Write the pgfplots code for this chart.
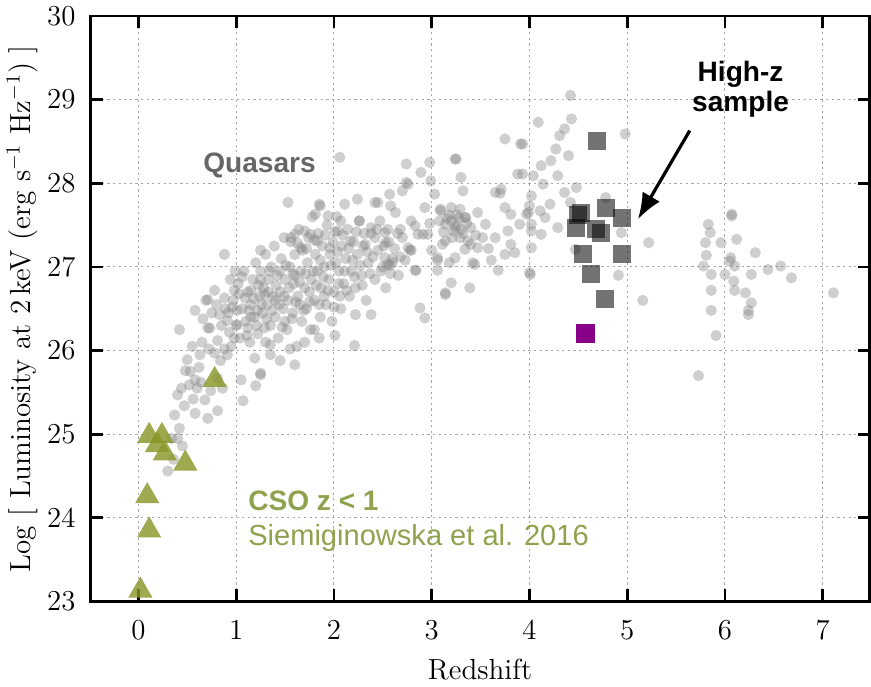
\documentclass[border=0pt]{standalone}
\usepackage{pgfplots}
\pgfplotsset{compat=1.18}
\usepackage{pgfplotstable}
\usepackage{fontspec}
\newfontfamily\annfont{Liberation Sans}
\usetikzlibrary{arrows.meta}
\definecolor{olivetri}{RGB}{138,150,40}
\definecolor{olivetxt}{RGB}{143,162,78}
\definecolor{qgray}{RGB}{102,102,102}
\definecolor{hzpurple}{RGB}{135,0,135}

\pgfplotstableread{
z L
0.42 26.25
0.58 26.48
0.73 26.27
0.78 26.72
0.69 26.60
0.50 25.89
0.48 25.76
0.52 25.59
0.40 25.47
0.68 25.41
0.37 25.23
0.47 25.34
0.58 25.25
0.81 25.28
0.71 25.19
0.42 25.07
0.40 24.95
0.45 24.86
0.30 24.56
0.36 24.70
1.07 25.40
1.05 25.65
1.20 25.58
1.25 25.73
1.19 25.91
0.84 25.88
0.91 25.95
0.78 25.97
0.81 25.67
0.58 25.65
0.86 25.55
0.74 25.52
0.81 26.12
0.98 26.15
0.91 26.36
1.01 26.48
1.09 26.63
1.22 26.48
1.29 26.27
1.35 26.07
0.88 26.63
0.98 26.72
0.83 26.43
1.15 26.72
1.29 26.67
1.12 26.27
1.01 26.31
0.88 27.15
1.25 27.20
0.71 26.61
0.71 26.27
1.60 25.83
1.25 25.71
0.62 25.80
0.55 26.05
0.65 26.10
0.75 26.45
0.60 25.55
2.22 26.43
2.38 26.43
2.21 26.06
2.01 26.18
1.80 26.25
2.88 26.51
2.93 26.39
3.14 26.67
3.39 26.75
3.20 26.81
2.73 27.08
2.83 26.96
2.55 27.03
3.61 27.08
3.44 27.03
3.06 27.08
2.79 27.20
2.06 28.31
1.53 27.77
2.74 28.23
2.89 28.13
2.98 28.25
3.25 28.29
3.30 28.07
3.32 27.91
3.03 27.87
2.76 27.99
2.57 27.87
2.58 27.73
2.45 27.77
2.24 27.81
2.11 27.75
1.86 27.73
1.81 27.63
1.94 27.61
2.07 27.55
2.04 27.43
2.26 27.55
2.38 27.47
2.52 27.41
2.53 27.29
2.68 27.45
2.79 27.55
2.93 27.71
2.86 27.39
2.96 27.39
3.09 27.67
3.20 27.71
3.34 27.59
3.14 27.51
3.24 27.47
3.40 27.47
3.37 27.31
3.14 27.31
2.76 27.23
1.56 27.35
1.70 27.43
1.83 27.31
1.66 27.23
1.96 27.23
2.17 27.31
2.32 27.27
2.42 27.35
1.85 27.75
2.42 27.77
2.52 27.11
2.57 27.02
2.60 27.05
3.75 28.53
3.93 28.47
3.24 28.29
3.88 28.11
2.99 28.03
2.74 28.01
2.70 27.91
3.71 27.93
3.70 27.88
3.65 27.89
4.02 27.85
3.09 27.69
3.29 27.69
3.35 27.59
3.20 27.55
3.47 27.65
3.55 27.51
3.75 27.71
3.81 27.63
3.99 27.65
4.02 27.51
2.83 27.49
2.91 27.39
3.22 27.43
3.29 27.35
3.11 27.27
3.40 27.27
3.65 27.35
3.78 27.43
3.81 27.27
3.75 27.15
3.85 27.17
4.02 27.23
3.24 27.11
3.34 27.21
3.47 27.23
3.06 27.11
3.18 27.05
3.42 27.05
2.78 27.20
2.84 26.96
3.06 26.96
3.68 26.96
4.01 26.91
3.14 26.69
3.25 27.50
3.30 27.45
3.18 27.62
3.28 27.58
4.42 29.05
4.43 28.77
4.09 28.73
4.36 28.65
4.31 28.57
3.91 28.47
4.98 28.59
4.40 28.33
4.27 28.41
4.22 28.27
4.12 28.21
4.04 28.09
3.93 28.11
4.29 28.09
4.14 27.99
4.48 27.95
4.36 27.89
4.42 27.77
4.21 27.75
4.00 27.73
4.11 27.67
3.97 27.63
4.16 27.59
3.90 27.51
4.29 27.47
4.12 27.39
4.02 27.43
4.78 27.83
5.22 27.29
4.47 27.21
4.91 26.90
5.16 26.60
4.00 26.93
4.94 27.41
6.07 27.61
6.07 27.63
5.83 27.51
5.85 27.41
5.96 27.29
5.80 27.29
6.12 27.33
6.31 27.17
5.81 27.14
6.06 27.11
6.05 27.07
6.10 27.01
5.78 27.01
5.86 26.91
6.00 26.91
6.27 26.91
6.44 26.97
6.57 27.01
6.68 26.87
6.09 26.83
5.86 26.72
6.10 26.72
6.21 26.69
6.27 26.57
6.24 26.48
5.86 26.48
7.11 26.69
5.91 26.18
5.73 25.70
6.24 26.43
0.92 26.45
0.95 26.05
0.97 26.60
1.00 26.30
1.02 26.80
1.04 26.15
1.06 26.50
1.08 26.95
1.10 26.35
1.12 26.70
1.14 26.10
1.15 26.55
1.17 26.85
1.19 26.40
1.20 27.05
1.22 26.20
1.24 26.65
1.25 26.95
1.27 26.45
1.28 26.75
1.30 26.10
1.30 27.15
1.32 26.55
1.33 26.85
1.35 26.30
1.36 27.00
1.38 26.65
1.39 27.25
1.40 26.40
1.42 26.90
1.43 26.15
1.45 26.70
1.46 27.10
1.48 26.50
1.49 27.35
1.50 26.85
1.52 26.25
1.53 26.60
1.55 27.00
1.56 27.30
1.58 26.45
1.59 26.80
1.60 27.15
1.62 26.05
1.63 26.65
1.64 27.45
1.66 26.95
1.67 26.35
1.68 27.20
1.70 26.75
1.72 26.50
1.73 27.05
1.74 27.35
1.76 26.25
1.77 26.85
1.78 27.60
1.80 26.60
1.81 27.15
1.83 26.95
1.84 27.40
1.86 26.40
1.87 26.75
1.88 27.25
1.90 27.00
1.92 26.55
1.93 27.50
1.95 26.85
1.96 27.15
1.98 26.35
1.99 27.30
2.00 26.70
2.02 27.05
2.03 27.60
2.05 26.95
2.07 26.50
2.08 27.25
2.10 26.80
2.12 27.10
2.14 27.45
2.16 26.65
2.18 26.95
2.20 27.30
2.22 26.75
2.24 27.15
2.26 27.55
2.28 26.90
2.30 27.25
2.33 26.60
2.35 27.05
2.38 27.40
2.42 26.85
2.45 27.20
2.47 27.55
2.50 27.00
2.53 26.75
2.56 27.30
2.60 27.10
2.63 27.65
2.66 26.90
2.70 27.35
1.35 25.95
1.45 25.88
1.55 26.02
1.70 26.10
1.85 26.15
1.60 27.39
1.76 27.39
1.25 26.85
1.40 26.60
1.50 26.35
1.65 26.55
1.75 26.70
1.90 26.65
2.05 26.80
1.15 26.40
1.45 26.95
1.60 26.90
0.93 26.22
0.96 26.52
1.03 26.68
1.06 26.88
1.11 26.18
1.13 26.48
1.18 26.62
1.21 26.30
1.23 26.78
1.26 26.55
1.31 26.38
1.33 26.70
1.34 26.95
1.37 26.48
1.41 26.78
1.44 26.55
1.47 26.28
1.49 26.65
1.51 27.02
1.54 26.75
1.57 26.38
1.58 26.92
1.61 26.58
1.63 27.28
1.65 26.82
1.69 26.48
1.71 26.92
1.72 27.22
1.75 26.58
1.79 26.95
1.80 27.32
1.82 26.78
1.85 26.55
1.86 27.08
1.89 26.88
1.91 27.38
1.94 26.72
1.97 27.02
2.00 26.52
2.01 27.42
2.04 27.18
2.06 26.65
2.09 27.38
2.11 26.95
2.13 26.72
2.15 27.22
2.19 27.08
2.21 26.88
2.23 27.42
2.27 27.02
2.29 26.78
2.31 27.40
2.34 27.18
2.37 26.92
2.40 27.12
2.44 27.45
2.48 26.95
2.51 27.25
2.55 27.45
2.58 26.92
2.62 27.22
2.65 27.40
2.68 27.12
0.85 26.30
0.89 26.50
0.94 26.85
0.99 26.95
0.80 26.55
0.66 26.38
0.63 25.95
0.72 26.02
0.88 26.02
0.53 25.75
0.56 25.42
0.64 25.62
0.44 25.55
0.34 24.95
3.12 27.42
3.16 27.58
3.21 27.35
3.26 27.62
3.32 27.40
3.36 27.52
3.08 27.55
2.98 27.52
3.00 27.20
3.45 27.38
3.52 27.35
3.58 27.22
}\quasars

\pgfplotstableread{
z L
4.69 28.51
4.53 27.65
4.78 27.71
4.95 27.59
4.48 27.47
4.68 27.45
4.73 27.41
4.55 27.15
4.95 27.16
4.63 26.91
4.77 26.62
4.50 27.62
}\highz

\pgfplotstableread{
z L
0.02 23.13
0.11 23.85
0.09 24.26
0.11 24.98
0.24 24.98
0.19 24.87
0.27 24.77
0.48 24.65
0.78 25.65
}\cso

\begin{document}
\begin{tikzpicture}
\begin{axis}[
  scale only axis,
  width=388.5pt, height=292pt,
  xmin=-0.49, xmax=7.48, ymin=23, ymax=30,
  xtick={0,1,2,3,4,5,6,7},
  ytick={23,24,25,26,27,28,29,30},
  grid=major,
  major grid style={black!35, line width=0.5pt, dash pattern=on 1.1pt off 1.7pt},
  axis line style={line width=1.4pt},
  every tick/.style={black, line width=1.4pt},
  major tick length=6pt,
  tick align=inside,
  tick label style={font=\fontsize{14}{16}\selectfont},
  xticklabel style={yshift=-6pt},
  yticklabel style={xshift=-4pt},
  label style={font=\fontsize{14.5}{17}\selectfont},
  xlabel={Redshift},
  ylabel={Log [ Luminosity at 2\,keV (erg s$^{-1}$ Hz$^{-1}$) ]},
  xlabel style={yshift=-3pt},
  ylabel style={yshift=-2pt},
  clip=true,
]
\addplot[only marks, mark=*, mark size=2.8pt, draw opacity=0,
  mark options={draw opacity=0, line width=0pt, fill=black!50, fill opacity=0.38}]
  table[x=z, y=L] {\quasars};
\addplot[only marks, mark=square*, mark size=4.5pt, draw opacity=0,
  mark options={draw opacity=0, line width=0pt, fill=black, fill opacity=0.55}]
  table[x=z, y=L] {\highz};
\addplot[only marks, mark=square*, mark size=4.5pt,
  mark options={draw=hzpurple, fill=hzpurple}]
  coordinates {(4.57,26.20)};
\addplot[only marks, mark=triangle*, mark size=7pt, draw opacity=0,
  mark options={draw opacity=0, line width=0pt, fill=olivetri, fill opacity=0.82}]
  table[x=z, y=L] {\cso};

\node[anchor=base west, inner sep=0, text=qgray, font=\annfont\bfseries\fontsize{14}{16}\selectfont]
  at (axis cs:0.66,28.13) {Quasars};
\node[anchor=north, inner sep=0, align=center, font=\annfont\bfseries\fontsize{14}{15}\selectfont]
  at (axis cs:6.16,29.47) {High-z\\sample};
\draw[line width=1.6pt, -{Latex[length=13pt,width=10pt]}]
  (axis cs:5.64,28.63) -- (axis cs:5.11,27.57);
\node[anchor=base west, inner sep=0, text=olivetxt, font=\annfont\bfseries\fontsize{14}{16}\selectfont]
  at (axis cs:1.12,24.09) {CSO z < 1};
\node[anchor=base west, inner sep=0, text=olivetxt, font=\annfont\fontsize{14.5}{16}\selectfont]
  at (axis cs:1.12,23.67) {Siemiginowska et al. 2016};
\end{axis}
\end{tikzpicture}
\end{document}
